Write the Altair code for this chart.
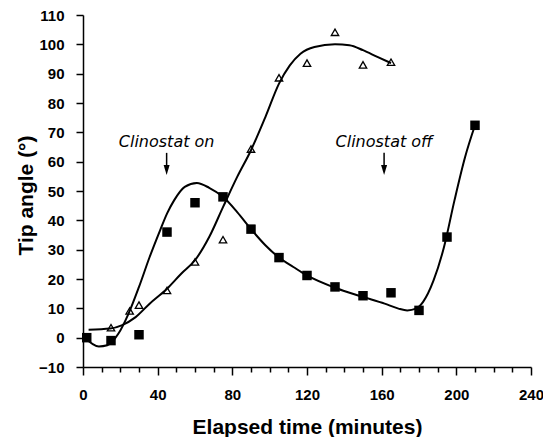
import altair as alt
import pandas as pd

# Measured points (filled squares)
sq_x = [2, 15, 30, 45, 60, 75, 90, 105, 120, 135, 150, 165, 180, 195, 210]
sq_y = [0, -1, 1, 36, 46, 48, 37, 27.3, 21.2, 17.3, 14.3, 15.3, 9.3, 34.3, 72.4]

# Measured points (open triangles)
tr_x = [15, 25, 30, 45, 60, 75, 90, 105, 120, 135, 150, 165]
tr_y = [3.4, 9.1, 11.1, 16.1, 25.8, 33.4, 64.3, 88.6, 93.6, 104.1, 93, 93.9]

# Fitted curve through squares
sqc_x = [1, 8.5, 13, 19, 24.4, 30, 35.7, 41.3, 45, 48.8, 54.5, 61, 67.6, 75, 82.6, 90,
         97.7, 105, 112.7, 120, 135, 150, 161.6, 169, 173.7, 178.4, 182.2, 187.8, 193.4,
         199, 204.7, 210]
sqc_y = [0, -3, -2.6, 1.4, 8.2, 17.3, 27.5, 36.6, 42.3, 46.8, 51.4, 52.7, 51.1, 48, 42.8, 37,
         31.5, 27.3, 24.1, 21.2, 17, 13.9, 11.6, 9.9, 9.3, 9.9, 12.2, 19.5, 30.9,
         46.8, 61.6, 72.4]

# Fitted curve through triangles
trc_x = [3, 14.6, 20.7, 28.2, 35.7, 45, 52.6, 60, 67.6, 75, 82.6, 90, 97.7, 105, 110.8,
         116.5, 124, 135, 142.7, 150, 157.7, 165]
trc_y = [2.7, 3.1, 4.2, 7, 11.6, 16.7, 21.8, 26.4, 34.3, 44.5, 54.8, 63.9, 75.2, 86.6, 92.8,
         96.8, 99.1, 100, 99.7, 98, 95.7, 93.6]

# Annotations
ann_text = ["Clinostat on", "Clinostat off"]
ann_x = [44.8, 161.3]
ann_y = [65, 65]
arrow_top = [63, 63]
arrow_head = [57.2, 57.2]

x_ticks = list(range(0, 241, 10))
y_ticks = list(range(-10, 111, 10))

sq = pd.DataFrame({"t": sq_x, "a": sq_y})
tr = pd.DataFrame({"t": tr_x, "a": tr_y})
sqc = pd.DataFrame({"t": sqc_x, "a": sqc_y})
trc = pd.DataFrame({"t": trc_x, "a": trc_y})
ann = pd.DataFrame({"t": ann_x, "a": ann_y, "label": ann_text,
                    "top": arrow_top, "head": arrow_head})

x_axis = alt.Axis(
    values=x_ticks,
    labelExpr="datum.value % 40 === 0 ? datum.label : ''",
    tickSize={"condition": {"test": "datum.value % 40 === 0", "value": 8}, "value": 5},
    tickColor="black", tickWidth=1.5,
    domainColor="black", domainWidth=1.5,
    labelFont="Liberation Sans", labelFontWeight="bold", labelFontSize=15,
    labelColor="black", labelPadding=12, labelFlush=False, labelOverlap=False,
    grid=False,
    title="Elapsed time (minutes)",
    titleFont="Liberation Sans", titleFontWeight="bold", titleFontSize=21,
    titleColor="black", titleBaseline="alphabetic", titleY=66,
    titleAnchor="middle")
y_axis = alt.Axis(
    values=y_ticks, tickSize=7, tickColor="black", tickWidth=1.5,
    domainColor="black", domainWidth=1.5,
    labelFont="Liberation Sans", labelFontWeight="bold", labelFontSize=15,
    labelColor="black", labelPadding=12, labelFlush=False, labelOverlap=False,
    grid=False,
    title="Tip angle (°)",
    titleFont="Liberation Sans", titleFontWeight="bold", titleFontSize=21,
    titleColor="black", titleAngle=270, titleBaseline="alphabetic",
    titleX=-51, titleY=180, titleAlign="center")

x_scale = alt.Scale(domain=[0, 240], nice=False, zero=False)
y_scale = alt.Scale(domain=[-10, 110], nice=False, zero=False)


def X(field="t"):
    return alt.X(f"{field}:Q", scale=x_scale, axis=x_axis)


def Y(field="a"):
    return alt.Y(f"{field}:Q", scale=y_scale, axis=y_axis)


line_sq = alt.Chart(sqc).mark_line(color="black", strokeWidth=2, interpolate="monotone").encode(x=X(), y=Y())
line_tr = alt.Chart(trc).mark_line(color="black", strokeWidth=2, interpolate="monotone").encode(x=X(), y=Y())

pts_sq = alt.Chart(sq).mark_point(shape="square", filled=True, color="black", size=90, opacity=1).encode(x=X(), y=Y())
pts_tr = alt.Chart(tr).mark_point(shape="triangle-up", filled=False, color="black",
                                   strokeWidth=1.3, size=55, opacity=1).encode(x=X(), y=Y())

text = alt.Chart(ann).mark_text(font="DejaVu Sans", fontStyle="italic", fontSize=16,
                                color="black", baseline="alphabetic", align="center").encode(
    x=X(), y=Y(), text="label:N")
arrow_shaft = alt.Chart(ann).mark_rule(color="black", strokeWidth=1.5).encode(
    x=X(), y=Y("top"), y2="head:Q")
arrow_tip = alt.Chart(ann).mark_point(shape="M -0.6 -1 L 0.6 -1 L 0 1 Z", filled=True,
                                      color="black", size=100, opacity=1).encode(
    x=X(), y=Y("head"))

chart = alt.layer(line_sq, line_tr, pts_sq, pts_tr, text, arrow_shaft, arrow_tip).properties(
    width=448, height=352,
    autosize=alt.AutoSizeParams(type="none"),
    padding={"left": 75, "top": 7, "right": 12, "bottom": 70},
    background="white",
).configure_view(stroke=None).configure_axis(labelOverlap=False)

chart.save("out.html", embed_options={"renderer": "svg", "actions": False})
